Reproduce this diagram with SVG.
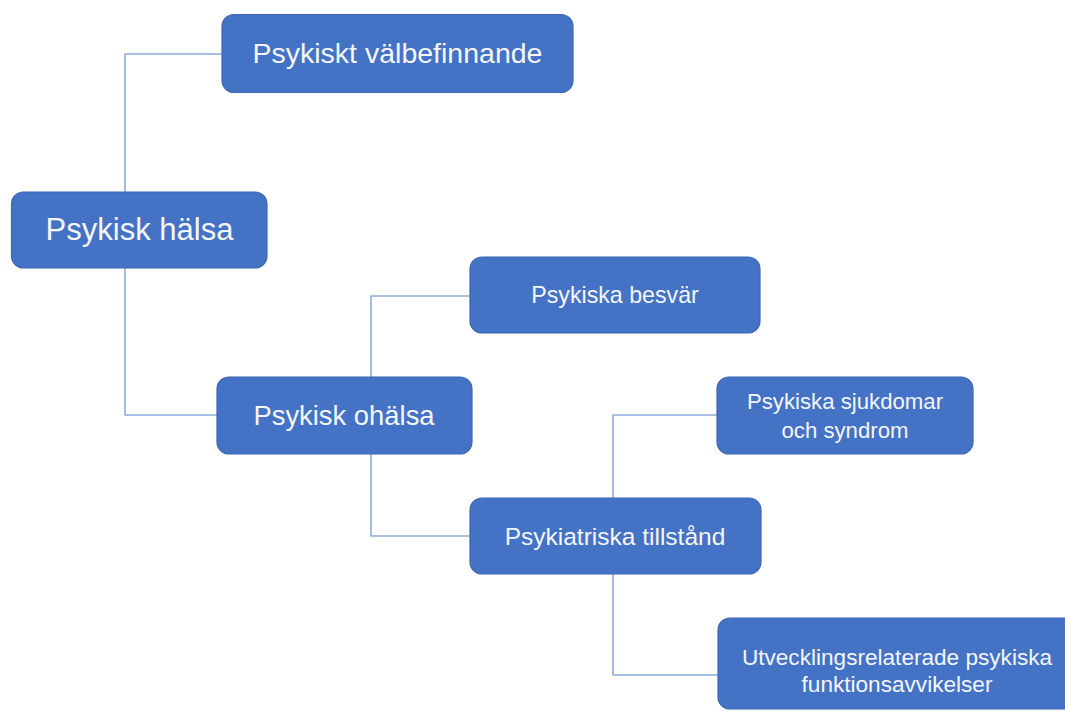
<svg xmlns="http://www.w3.org/2000/svg" width="1065" height="711" viewBox="0 0 1065 711">
<style>
.box{fill:#4472C4;stroke:#3D67B3;stroke-width:1.2}
.lbl{fill:#F4F6FA;font-family:"Liberation Sans",Arial,sans-serif;text-anchor:middle}
.con{fill:none;stroke:#8FAADC;stroke-width:1.6}
</style>
<rect x="0" y="0" width="1065" height="711" fill="#FFFFFF"/>
<g id="connectors">
<path class="con" d="M125,192 V54 H222"/>
<path class="con" d="M125,268 V415 H217"/>
<path class="con" d="M371,377 V296 H470"/>
<path class="con" d="M371,454 V536 H470"/>
<path class="con" d="M613,498 V415 H717"/>
<path class="con" d="M613,574 V675 H718"/>
</g>
<g id="node-psykisk-halsa">
<rect class="box" x="11.5" y="192" width="255.5" height="76" rx="12"/>
<text class="lbl" x="139.5" y="240" font-size="31">Psykisk hälsa</text>
</g>
<g id="node-psykiskt-valbefinnande">
<rect class="box" x="222" y="14.5" width="351" height="78" rx="12"/>
<text class="lbl" x="397.5" y="63" font-size="28.5">Psykiskt välbefinnande</text>
</g>
<g id="node-psykisk-ohalsa">
<rect class="box" x="217" y="377" width="255" height="77" rx="12"/>
<text class="lbl" x="344" y="425" font-size="27.4">Psykisk ohälsa</text>
</g>
<g id="node-psykiska-besvar">
<rect class="box" x="470" y="257" width="290" height="76" rx="12"/>
<text class="lbl" x="615" y="303" font-size="23.2">Psykiska besvär</text>
</g>
<g id="node-psykiatriska-tillstand">
<rect class="box" x="470" y="498" width="291" height="76" rx="12"/>
<text class="lbl" x="615" y="545" font-size="24.5">Psykiatriska tillstånd</text>
</g>
<g id="node-psykiska-sjukdomar">
<rect class="box" x="717" y="377" width="256" height="77" rx="12"/>
<text class="lbl" x="845" y="409" font-size="22.2">Psykiska sjukdomar</text>
<text class="lbl" x="845" y="438" font-size="22.2">och syndrom</text>
</g>
<g id="node-utvecklingsrelaterade">
<rect class="box" x="718" y="618" width="358" height="91" rx="12"/>
<text class="lbl" x="897" y="665" font-size="22.6">Utvecklingsrelaterade psykiska</text>
<text class="lbl" x="897" y="692" font-size="22.6">funktionsavvikelser</text>
</g>
</svg>
